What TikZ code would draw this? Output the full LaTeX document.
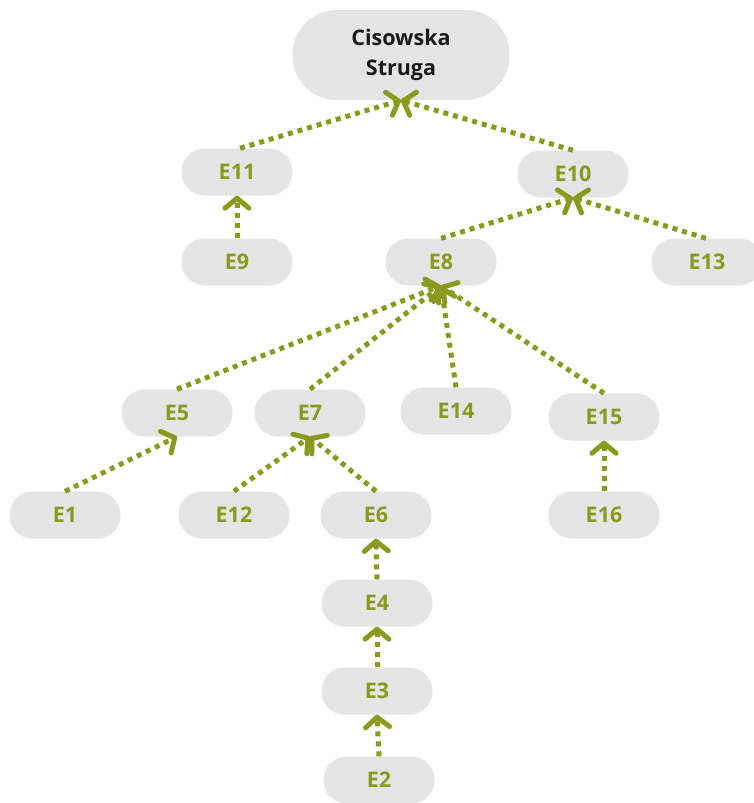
\documentclass[tikz,border=0pt]{standalone}
\usepackage{fontspec}
\setmainfont{Open Sans}
\usetikzlibrary{arrows.meta}
\definecolor{olive}{RGB}{138,154,30}
\definecolor{pill}{RGB}{229,229,229}
\begin{document}
\begin{tikzpicture}[x=1pt,y=-1pt,
  pillnode/.style={draw=none,fill=pill,rounded corners=23pt,minimum width=111pt,minimum height=47pt,inner sep=0pt,
    font=\fontsize{21.5}{24}\selectfont\bfseries,text=olive},
  rootnode/.style={draw=none,fill=pill,rounded corners=44pt,minimum width=217pt,minimum height=90pt,inner sep=0pt,
    font=\fontsize{21.5}{30}\selectfont\bfseries,text=black!90,align=center},
  link/.style={draw=olive,line width=5pt,dash pattern=on 5pt off 5pt,
    -{Straight Barb[length=10pt,width=24pt,line cap=round,line join=round]}}]
\useasboundingbox (0,0) rectangle (754,803);
\begin{scope}
\clip (0,0) rectangle (754,803);
\node[rootnode] (cs) at (401,55) {Cisowska\\Struga};
\node[pillnode] (e11) at (237,172) {E11};
\node[pillnode] (e9) at (237,262) {E9};
\node[pillnode] (e10) at (573,174) {E10};
\node[pillnode] (e8) at (441,262) {E8};
\node[pillnode] (e13) at (707,262) {E13};
\node[pillnode] (e5) at (177,413) {E5};
\node[pillnode] (e7) at (310,413) {E7};
\node[pillnode] (e14) at (456,411) {E14};
\node[pillnode] (e15) at (604,417) {E15};
\node[pillnode] (e1) at (65,515) {E1};
\node[pillnode] (e12) at (234,515) {E12};
\node[pillnode] (e6) at (376,515) {E6};
\node[pillnode] (e16) at (604,515) {E16};
\node[pillnode] (e4) at (377,603) {E4};
\node[pillnode] (e3) at (377,691) {E3};
\node[pillnode] (e2) at (379,780) {E2};
\end{scope}
\draw[link] ([xshift=3pt]e11.north) -- (cs.south);
\draw[link] (e10.north) -- (cs.south);
\draw[link] (e9.north) -- (e11.south);
\draw[link] (e8.north) -- (e10.south);
\draw[link] ([xshift=-1pt]e13.north) -- (e10.south);
\draw[link] (e5.north) -- (e8.south);
\draw[link] (e7.north) -- (e8.south);
\draw[link] (e14.north) -- (e8.south);
\draw[link] (e15.north) -- (e8.south);
\draw[link] (e1.north) -- (e5.south);
\draw[link] (e12.north) -- (e7.south);
\draw[link] (e6.north) -- (e7.south);
\draw[link] (e16.north) -- (e15.south);
\draw[link] (e4.north) -- (e6.south);
\draw[link] (e3.north) -- (e4.south);
\draw[link] (e2.north) -- (e3.south);
\end{tikzpicture}
\end{document}
